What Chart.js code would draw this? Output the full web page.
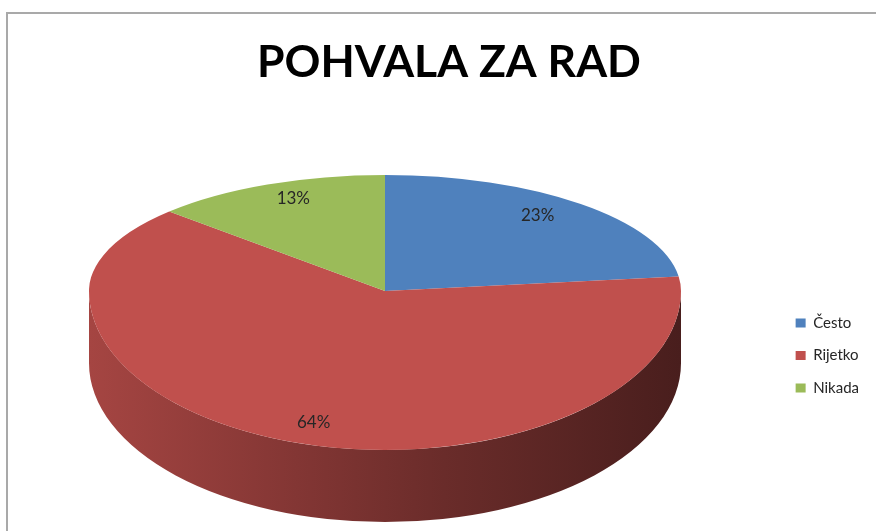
<!DOCTYPE html>
<html>
<head>
<meta charset="utf-8">
<style>
html,body{margin:0;padding:0;background:#fff;overflow:hidden;width:876px;height:531px;}
#frame{position:absolute;left:6px;top:12px;width:1000px;height:1000px;border:2px solid #a9a9a9;box-sizing:border-box;}
#c{position:absolute;left:0;top:0;}
</style>
<script src="https://cdn.jsdelivr.net/npm/chart.js"></script>
</head>
<body>
<div id="frame"></div>
<canvas id="c" width="876" height="531"></canvas>
<script>
// ---- data ----
const chartTitle = 'POHVALA ZA RAD';
const categories = ['Često', 'Rijetko', 'Nikada'];
const percentValues = [23, 64, 13];

// ---- helpers ----
function shade(hex, f) {
  const n = parseInt(hex.slice(1), 16);
  const r = (n >> 16) & 255, g = (n >> 8) & 255, b = n & 255;
  return 'rgb(' + Math.round(r * f) + ',' + Math.round(g * f) + ',' + Math.round(b * f) + ')';
}

// Pseudo-3D pie: library arcs drawn through an elliptical (two-half) transform plus an extruded side
const pie3dPlugin = {
  id: 'pie3d',
  beforeDatasetsDraw(chart, args, opts) {
    const ctx = chart.ctx;
    const meta = chart.getDatasetMeta(0);
    const arcs = meta.data;
    if (!arcs.length) return;
    const dpr = chart.currentDevicePixelRatio || 1;
    const ox = arcs[0].x, oy = arcs[0].y, R = arcs[0].outerRadius;
    const sx = opts.rx / R, syT = opts.ryTop / R, syB = opts.ryBottom / R;
    const setT = sy => ctx.setTransform(dpr * sx, 0, 0, dpr * sy, dpr * (opts.cx - sx * ox), dpr * (opts.cy - sy * oy));
    const colors = chart.data.datasets[0].backgroundColor;

    // extruded side (front half only)
    ctx.save();
    setT(syB);
    const dy = opts.depth / syB;
    arcs.forEach((el, i) => {
      const a1 = Math.max(el.startAngle, 0), a2 = Math.min(el.endAngle, Math.PI);
      if (a2 <= a1) return;
      const g = ctx.createLinearGradient(ox - R, 0, ox + R, 0);
      opts.sideShade.forEach(s => g.addColorStop(s[0], shade(colors[i], s[1])));
      ctx.beginPath();
      ctx.arc(ox, oy, R, a1, a2);
      ctx.arc(ox, oy + dy, R, a2, a1, true);
      ctx.closePath();
      ctx.fillStyle = g;
      ctx.fill();
    });
    ctx.restore();

    // top face: back half and front half with different vertical scale
    const W = chart.width, H = chart.height;
    [[0, opts.cy, syT], [opts.cy, H, syB]].forEach(p => {
      ctx.save();
      ctx.setTransform(dpr, 0, 0, dpr, 0, 0);
      ctx.beginPath();
      ctx.rect(0, p[0], W, p[1] - p[0]);
      ctx.clip();
      setT(p[2]);
      arcs.forEach(el => el.draw(ctx));
      ctx.restore();
    });

    // percentage labels
    const data = chart.data.datasets[0].data;
    const total = data.reduce((a, b) => a + b, 0);
    ctx.save();
    ctx.setTransform(dpr, 0, 0, dpr, 0, 0);
    ctx.font = opts.labelFont;
    ctx.fillStyle = opts.labelColor;
    ctx.textAlign = 'center';
    ctx.textBaseline = 'middle';
    arcs.forEach((el, i) => {
      const mid = (el.startAngle + el.endAngle) / 2;
      const s = Math.sin(mid);
      const sy = s < 0 ? syT : syB;
      const x = opts.cx + sx * R * opts.labelFx * Math.cos(mid);
      const y = opts.cy + sy * R * opts.labelFy * s;
      ctx.fillText(Math.round(data[i] / total * 100) + '%', x, y);
    });
    ctx.restore();
    return false;
  }
};

new Chart(document.getElementById('c'), {
  type: 'pie',
  data: {
    labels: categories,
    datasets: [{
      data: percentValues,
      backgroundColor: ['#4f81bd', '#c0504d', '#9bbb59'],
      borderWidth: 0
    }]
  },
  options: {
    responsive: false,
    animation: false,
    events: [],
    layout: { padding: { left: 29, right: 7, top: 0, bottom: 0 } },
    plugins: {
      title: {
        display: true,
        text: chartTitle,
        color: '#000',
        font: { family: 'Lato', size: 44.5, weight: 'bold', lineHeight: 1.2 },
        padding: { top: 36, bottom: 90.6 }
      },
      legend: {
        position: 'right',
        fullSize: false,
        labels: {
          boxWidth: 10,
          boxHeight: 9,
          padding: 17.5,
          color: '#262626',
          font: { family: 'Lato', size: 15 }
        }
      },
      tooltip: { enabled: false },
      pie3d: {
        cx: 385, cy: 291, rx: 296, ryTop: 116, ryBottom: 159, depth: 72,
        sideShade: [[0, 0.86], [0.35, 0.68], [0.6, 0.55], [1, 0.38]],
        labelFont: '17px Lato', labelColor: '#262626',
        labelFx: 0.78, labelFy: 0.87
      }
    }
  },
  plugins: [pie3dPlugin]
});
</script>
</body>
</html>
